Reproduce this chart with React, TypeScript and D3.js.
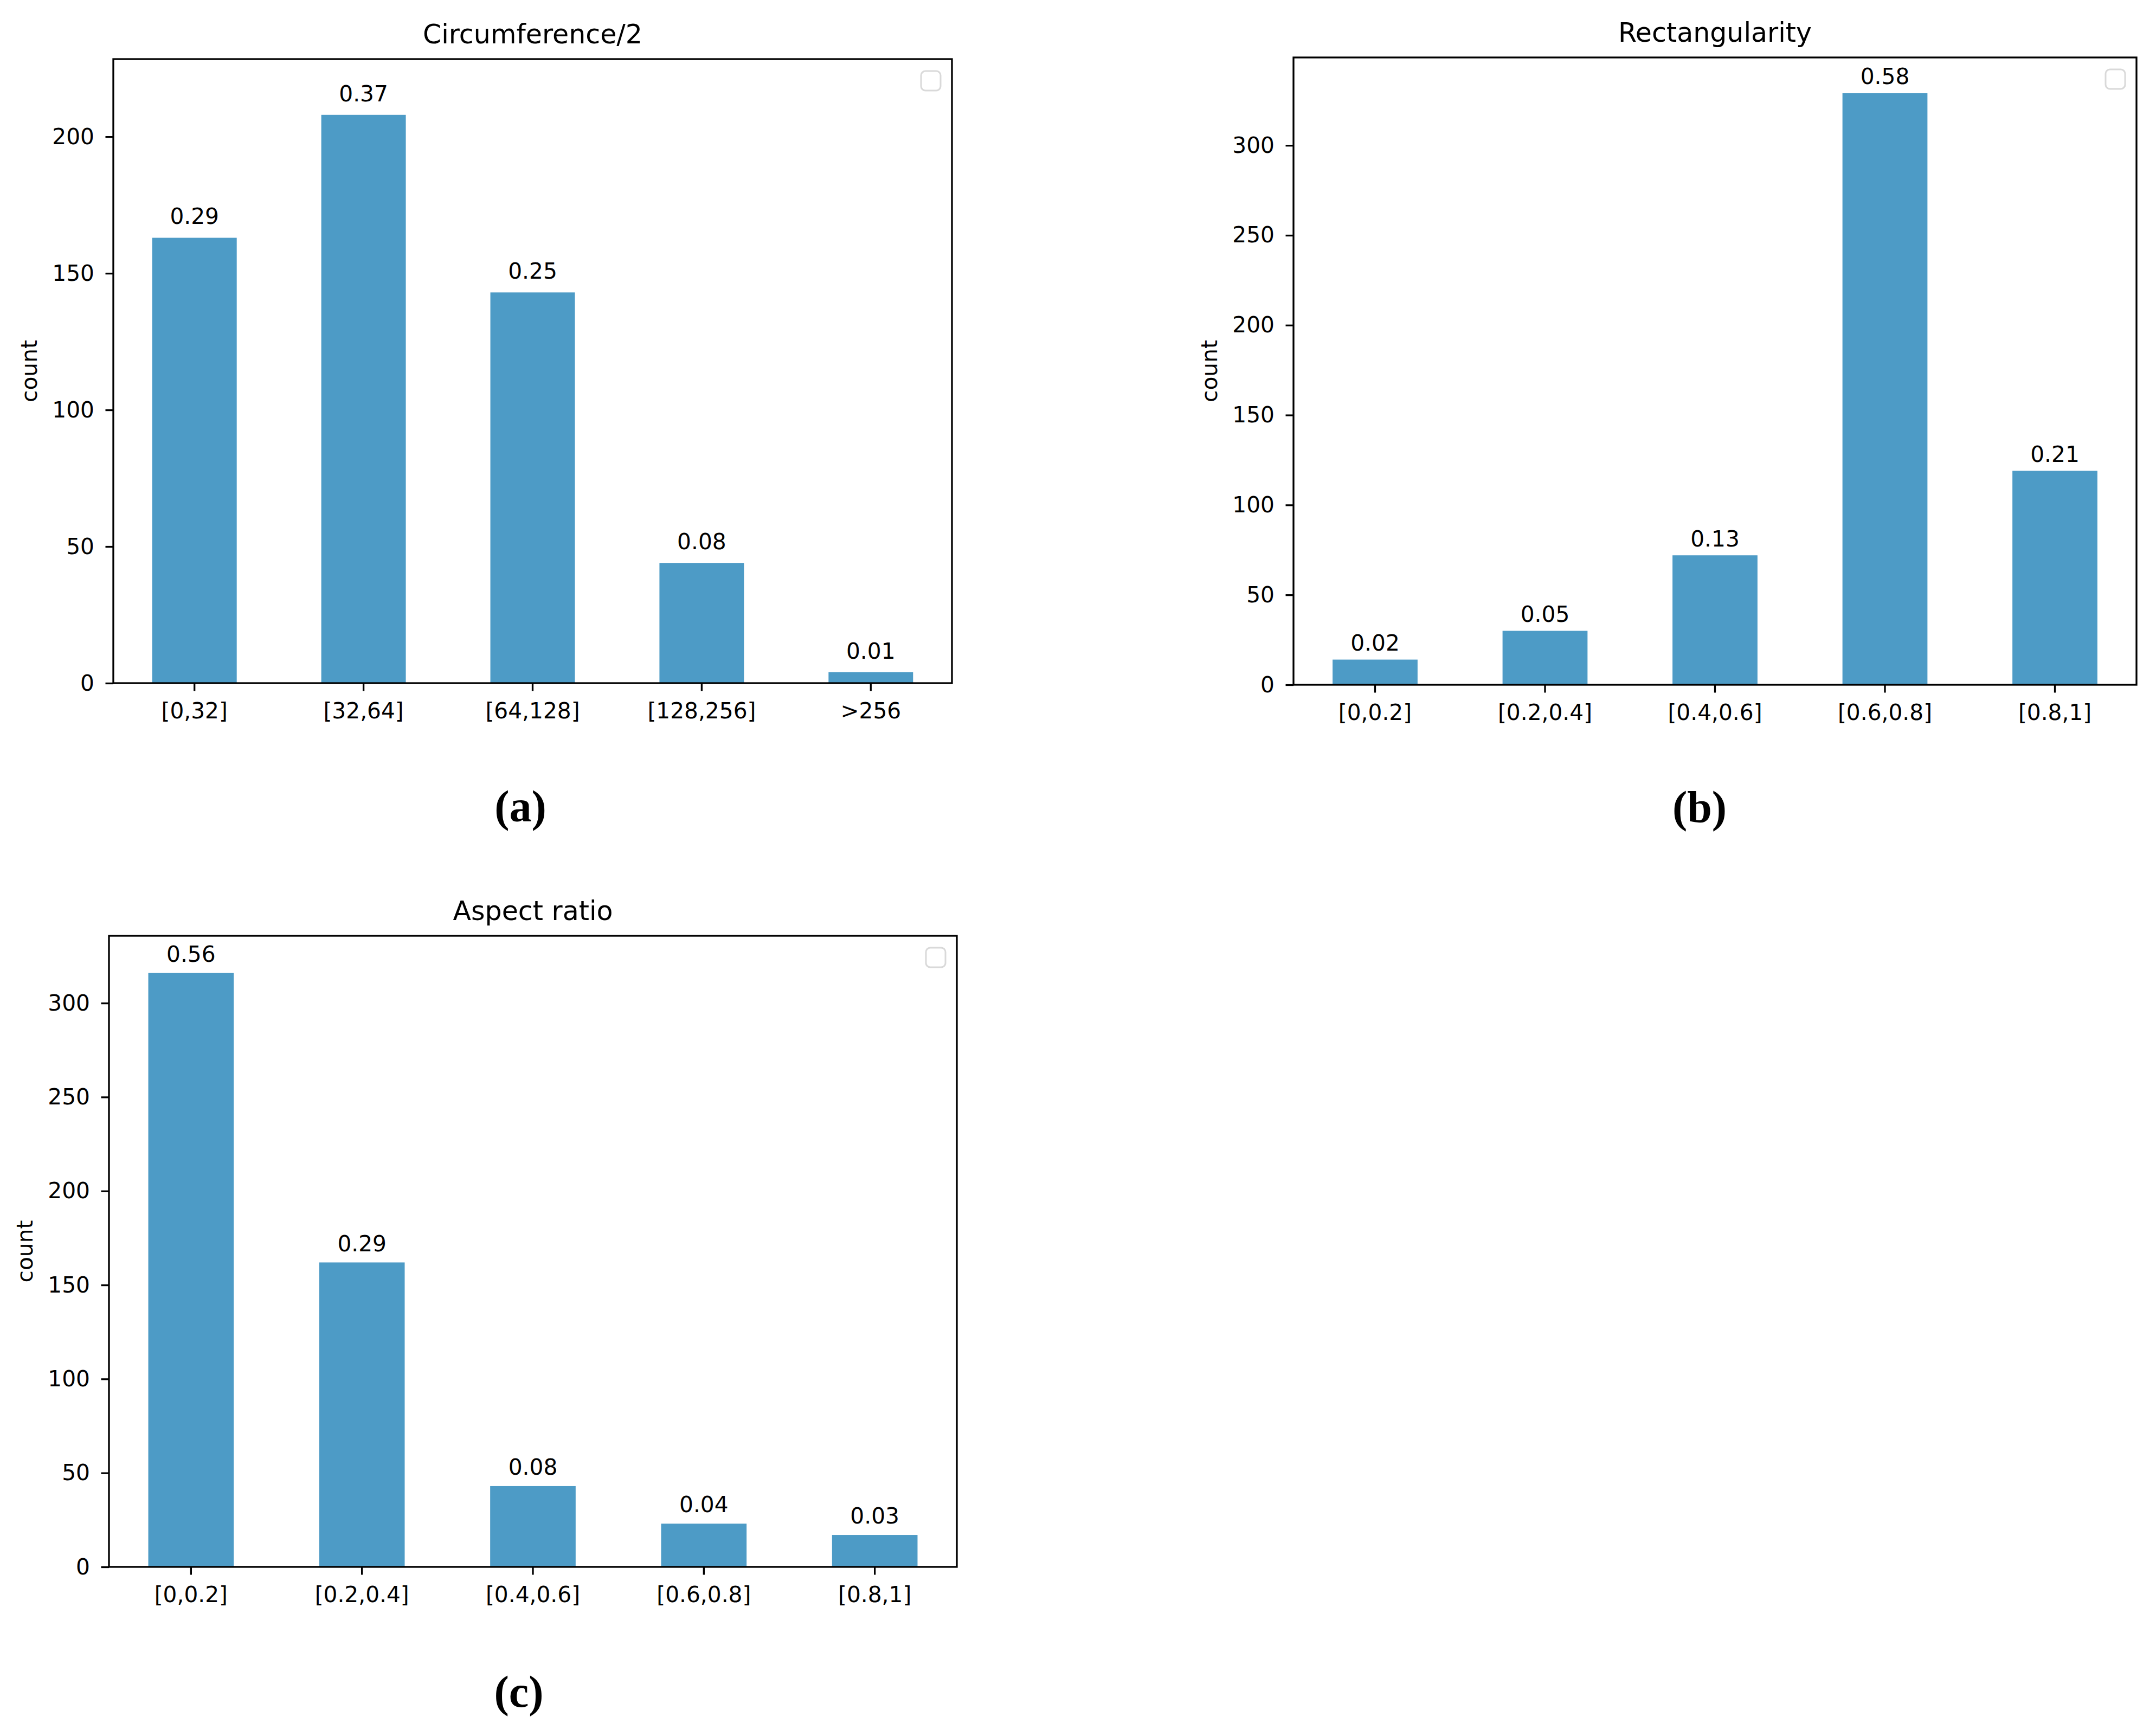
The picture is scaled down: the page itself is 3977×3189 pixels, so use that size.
import React, { useEffect, useRef } from 'react';
import * as d3 from 'd3';

// categories, counts and printed ratios per panel
const circumLabels = ['[0,32]', '[32,64]', '[64,128]', '[128,256]', '>256'];
const circumCounts = [163, 208, 143, 44, 4];
const circumRatios = ['0.29', '0.37', '0.25', '0.08', '0.01'];
const circumTicks = [0, 50, 100, 150, 200];

const rectLabels = ['[0,0.2]', '[0.2,0.4]', '[0.4,0.6]', '[0.6,0.8]', '[0.8,1]'];
const rectCounts = [14, 30, 72, 329, 119];
const rectRatios = ['0.02', '0.05', '0.13', '0.58', '0.21'];
const rectTicks = [0, 50, 100, 150, 200, 250, 300];

const aspectLabels = ['[0,0.2]', '[0.2,0.4]', '[0.4,0.6]', '[0.6,0.8]', '[0.8,1]'];
const aspectCounts = [316, 162, 43, 23, 17];
const aspectRatios = ['0.56', '0.29', '0.08', '0.04', '0.03'];
const aspectTicks = [0, 50, 100, 150, 200, 250, 300];

const W = 3977, H = 3189;
const barColor = '#4d9bc6';
const font = '"DejaVu Sans", sans-serif';
const fs = 40.7;   // tick / annotation size
const titleFs = 49;
const lw = 3.3;

interface Panel {
  title: string;
  tag: string;
  labels: string[];
  counts: number[];
  ratios: string[];
  ticks: number[];
  left: number; right: number; top: number; bottom: number;
  yMax: number;
  labelOff: number;
  tagX: number; tagY: number;
}

const panels: Panel[] = [
  { title: 'Circumference/2', tag: '(a)', labels: circumLabels, counts: circumCounts, ratios: circumRatios, ticks: circumTicks,
    left: 209, right: 1756, top: 109, bottom: 1260, yMax: 228.4, labelOff: 5, tagX: 960, tagY: 1515 },
  { title: 'Rectangularity', tag: '(b)', labels: rectLabels, counts: rectCounts, ratios: rectRatios, ticks: rectTicks,
    left: 2386, right: 3941, top: 106, bottom: 1263, yMax: 348.9, labelOff: 5, tagX: 3135, tagY: 1516 },
  { title: 'Aspect ratio', tag: '(c)', labels: aspectLabels, counts: aspectCounts, ratios: aspectRatios, ticks: aspectTicks,
    left: 201, right: 1765, top: 1726, bottom: 2890, yMax: 335.8, labelOff: 6, tagX: 957, tagY: 3148 },
];

function drawPanel(svg: d3.Selection<SVGSVGElement, unknown, null, undefined>, p: Panel) {
  const x = d3.scaleBand<string>()
    .domain(p.labels)
    .range([p.left, p.right])
    .paddingInner(0.5)
    .paddingOuter(0.23);
  const y = d3.scaleLinear().domain([0, p.yMax]).range([p.bottom, p.top]);

  const g = svg.append('g');

  // bars
  g.selectAll('rect.bar')
    .data(p.counts)
    .join('rect')
    .attr('class', 'bar')
    .attr('x', (d, i) => x(p.labels[i]) as number)
    .attr('y', d => y(d))
    .attr('width', x.bandwidth())
    .attr('height', d => y(0) - y(d))
    .attr('fill', barColor);

  // ratio labels above bars
  g.selectAll('text.val')
    .data(p.counts)
    .join('text')
    .attr('class', 'val')
    .attr('x', (d, i) => (x(p.labels[i]) as number) + x.bandwidth() / 2)
    .attr('y', d => y(d + p.labelOff))
    .attr('text-anchor', 'middle')
    .attr('font-family', font)
    .attr('font-size', fs)
    .attr('fill', '#000')
    .text((d, i) => p.ratios[i]);

  // y axis
  const yAxis = g.append('g')
    .attr('transform', `translate(${p.left},0)`)
    .call(d3.axisLeft(y).tickValues(p.ticks).tickSize(14.5).tickPadding(20.5).tickFormat(d3.format('d')));
  yAxis.select('.domain').remove();
  yAxis.attr('font-family', font).attr('font-size', fs);
  yAxis.selectAll('line').attr('stroke', '#000').attr('stroke-width', lw);
  yAxis.selectAll('text').attr('fill', '#000');

  // x axis
  const xAxis = g.append('g')
    .attr('transform', `translate(0,${p.bottom})`)
    .call(d3.axisBottom(x).tickSize(14.5).tickPadding(21.5));
  xAxis.select('.domain').remove();
  xAxis.attr('font-family', font).attr('font-size', fs);
  xAxis.selectAll('line').attr('stroke', '#000').attr('stroke-width', lw);
  xAxis.selectAll('text').attr('fill', '#000');

  // frame
  g.append('rect')
    .attr('x', p.left)
    .attr('y', p.top)
    .attr('width', p.right - p.left)
    .attr('height', p.bottom - p.top)
    .attr('fill', 'none')
    .attr('stroke', '#000')
    .attr('stroke-width', lw);

  // empty legend box
  g.append('rect')
    .attr('x', p.right - 21 - 36)
    .attr('y', p.top + 22)
    .attr('width', 36)
    .attr('height', 36)
    .attr('rx', 8)
    .attr('fill', '#fff')
    .attr('stroke', '#d9d9d9')
    .attr('stroke-width', 3);

  // title
  g.append('text')
    .attr('x', (p.left + p.right) / 2)
    .attr('y', p.top - 29)
    .attr('text-anchor', 'middle')
    .attr('font-family', font)
    .attr('font-size', titleFs)
    .attr('fill', '#000')
    .text(p.title);

  // y label
  const cy = (p.top + p.bottom) / 2;
  const lx = p.left - 141;
  g.append('text')
    .attr('transform', `translate(${lx},${cy}) rotate(-90)`)
    .attr('text-anchor', 'middle')
    .attr('font-family', font)
    .attr('font-size', fs)
    .attr('fill', '#000')
    .text('count');

  // sub-figure tag
  g.append('text')
    .attr('x', p.tagX)
    .attr('y', p.tagY)
    .attr('text-anchor', 'middle')
    .attr('font-family', '"Liberation Serif", "DejaVu Serif", serif')
    .attr('font-weight', 'bold')
    .attr('font-size', 82)
    .attr('fill', '#000')
    .text(p.tag);
}

export default function App() {
  const ref = useRef<SVGSVGElement>(null);

  useEffect(() => {
    if (ref.current == null) return;
    const svg = d3.select(ref.current);
    svg.selectAll('*').remove();
    svg.append('rect').attr('width', W).attr('height', H).attr('fill', '#fff');
    panels.forEach(p => drawPanel(svg, p));
  }, []);

  return (
    <svg ref={ref} width={W} height={H}
      style={{ position: 'absolute', left: 0, top: 0, display: 'block' }} />
  );
}
